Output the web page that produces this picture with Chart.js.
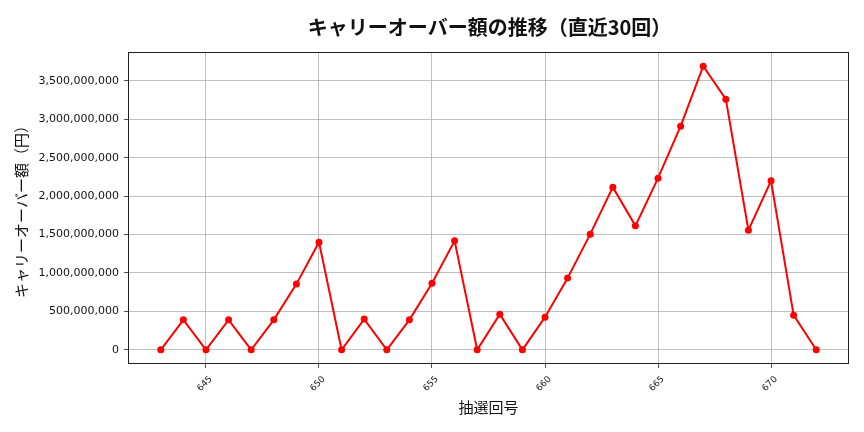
<!DOCTYPE html>
<html>
<head>
<meta charset="utf-8">
<script src="https://cdn.jsdelivr.net/npm/chart.js@4/dist/chart.umd.min.js"></script>
<style>
  html, body { margin:0; padding:0; background:#fff; }
  #wrap { width:864px; height:432px; }
</style>
</head>
<body>
<div id="wrap"><canvas id="chart" width="864" height="432"></canvas></div>
<script>
// draw numbers (抽選回号)
const draws = [643,644,645,646,647,648,649,650,651,652,653,654,655,656,657,
               658,659,660,661,662,663,664,665,666,667,668,669,670,671,672];
// carry-over amount (円)
const carryover = [0,390e6,0,390e6,0,390e6,855e6,1401e6,0,400e6,0,390e6,867e6,1418e6,0,
                   464e6,0,425e6,933e6,1505e6,2117e6,1613e6,2234e6,2910e6,3691e6,3262e6,1557e6,2199e6,451e6,0];
const xTicks = [645,650,655,660,665,670];
const yTicks = [0,500e6,1000e6,1500e6,2000e6,2500e6,3000e6,3500e6];

const titleText = "キャリーオーバー額の推移（直近30回）";
const xTitle = "抽選回号";
const yTitle = "キャリーオーバー額（円）";

const points = draws.map((d,i) => ({x:d, y:carryover[i]}));

/* matplotlib-like 5% margins */
const xMin = Math.min(...draws), xMax = Math.max(...draws);
const yMin = Math.min(...carryover), yMax = Math.max(...carryover);
const xPad = (xMax - xMin) * 0.05, yPad = (yMax - yMin) * 0.05;

const jp = "'Noto Sans CJK JP', 'Noto Sans', sans-serif";
const dv = "'DejaVu Sans', sans-serif";

/* frame + title over the plot area */
const framePlugin = {
  id:'frame',
  afterDraw(chart){
    const {ctx, chartArea:a} = chart;
    ctx.save();
    ctx.strokeStyle = "#222";
    ctx.lineWidth = 1;
    ctx.strokeRect(a.left+0.5, a.top+0.5, a.right-a.left-1, a.bottom-a.top-1);
    ctx.fillStyle = "#111";
    ctx.font = "600 20px " + jp;
    ctx.textAlign = "center";
    ctx.textBaseline = "middle";
    ctx.fillText(titleText, (a.left + a.right)/2 + 1, 27);
    ctx.restore();
  }
};

new Chart(document.getElementById("chart").getContext("2d"), {
  type:"line",
  data:{
    datasets:[{
      data:points,
      borderColor:"#ff0000",
      backgroundColor:"#ff0000",
      borderWidth:2,
      pointRadius:3.5,
      pointHoverRadius:3.5,
      pointBorderWidth:0,
      tension:0
    }]
  },
  options:{
    responsive:false,
    animation:false,
    devicePixelRatio:1,
    layout:{ padding:{ top:52, right:15, left:0, bottom:0 } },
    plugins:{ legend:{display:false}, tooltip:{enabled:false} },
    scales:{
      x:{
        type:"linear",
        min:xMin - xPad,
        max:xMax + xPad,
        afterFit(scale){ scale.height = 68; },
        afterBuildTicks(scale){ scale.ticks = xTicks.map(v => ({value:v})); },
        ticks:{
          font:{family:dv, size:9},
          color:"#222",
          minRotation:45,
          maxRotation:45,
          labelOffset:5,
          padding:6,
          callback:v => String(v)
        },
        grid:{ color:"#b0b0b0", lineWidth:0.8, tickColor:"#222", tickLength:4 },
        border:{ display:false },
        title:{
          display:true, text:xTitle, color:"#111",
          font:{family:jp, size:15}, padding:{top:0, bottom:16}
        }
      },
      y:{
        min:yMin - yPad,
        max:yMax + yPad,
        afterFit(scale){ scale.width = 128; },
        afterBuildTicks(scale){ scale.ticks = yTicks.map(v => ({value:v})); },
        ticks:{
          font:{family:dv, size:11},
          color:"#111",
          padding:5,
          callback:v => Number(v).toLocaleString("en-US")
        },
        grid:{ color:"#b0b0b0", lineWidth:0.8, tickColor:"#222", tickLength:4 },
        border:{ display:false },
        title:{
          display:true, text:yTitle, color:"#111",
          font:{family:jp, size:15}, padding:{top:12, bottom:0}
        }
      }
    }
  },
  plugins:[framePlugin]
});
</script>
</body>
</html>
